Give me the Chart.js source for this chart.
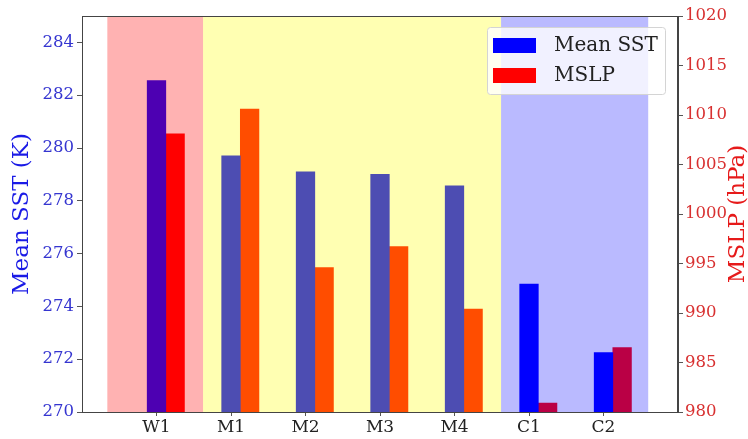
<!DOCTYPE html>
<html>
<head>
<meta charset="utf-8">
<script src="https://cdn.jsdelivr.net/npm/chart.js@4.4.0/dist/chart.umd.min.js"></script>
<style>
  html, body { margin: 0; padding: 0; background: #fff; }
  #wrap { width: 748px; height: 439px; position: relative; }
</style>
</head>
<body>
<div id="wrap"><canvas id="sstChart"></canvas></div>
<script>
// Cas étudiés et valeurs moyennes
const cases = ['W1', 'M1', 'M2', 'M3', 'M4', 'C1', 'C2'];
const meanSst = [282.55, 279.7, 279.1, 279.0, 278.57, 274.85, 272.25];
const mslp = [1008.1, 1010.6, 994.6, 996.7, 990.4, 980.9, 986.5];

const sstTicks = [270, 272, 274, 276, 278, 280, 282, 284];
const mslpTicks = [980, 985, 990, 995, 1000, 1005, 1010, 1015, 1020];

// Bandes de fond (chaud / moyen / froid), en unités de l'axe x
const bandStart = [-0.66, 0.625, 4.625];
const bandEnd = [0.625, 4.625, 6.6];
const bandColors = ['rgba(255, 0, 0, 0.3)', 'rgba(255, 255, 0, 0.3)', 'rgba(0, 0, 255, 0.27)'];

const sstTitle = 'Mean SST (K)';
const mslpTitle = 'MSLP (hPa)';

const BAR_W = 0.25;
const SERIF = '"DejaVu Serif", "Liberation Serif", serif';

// Bandes dessinées par-dessus les barres, comme un axvspan transparent
const bandsPlugin = {
    id: 'bands',
    afterDatasetsDraw(chart) {
        const { ctx, chartArea, scales } = chart;
        ctx.save();
        bandStart.forEach((from, i) => {
            const x0 = scales.x.getPixelForValue(from);
            const x1 = scales.x.getPixelForValue(bandEnd[i]);
            ctx.fillStyle = bandColors[i];
            ctx.fillRect(x0, chartArea.top, x1 - x0, chartArea.bottom - chartArea.top);
        });
        ctx.restore();
    }
};

// Cadre, titres des axes et légende
const framePlugin = {
    id: 'frame',
    afterDraw(chart) {
        const { ctx, chartArea } = chart;
        const { left, right, top, bottom } = chartArea;
        ctx.save();
        ctx.strokeStyle = '#444';
        ctx.lineWidth = 1;
        ctx.strokeRect(left + 0.5, top + 0.5, right - left - 1, bottom - top);

        const midY = (top + bottom) / 2;
        ctx.font = '23px ' + SERIF;
        ctx.textAlign = 'center';
        ctx.textBaseline = 'middle';

        ctx.save();
        ctx.translate(22, midY);
        ctx.rotate(-Math.PI / 2);
        ctx.fillStyle = '#1a1ae6';
        ctx.fillText(sstTitle, 0, 0);
        ctx.restore();

        ctx.save();
        ctx.translate(right + 60, midY);
        ctx.rotate(-Math.PI / 2);
        ctx.fillStyle = '#e61a1a';
        ctx.fillText(mslpTitle, 0, 0);
        ctx.restore();

        // légende
        const bx = right - 191, by = top + 11, bw = 178, bh = 67;
        ctx.fillStyle = 'rgba(255, 255, 255, 0.8)';
        ctx.strokeStyle = '#d4d4d4';
        ctx.beginPath();
        ctx.roundRect(bx + 0.5, by + 0.5, bw, bh, 3);
        ctx.fill();
        ctx.stroke();

        ctx.font = '20px ' + SERIF;
        ctx.textAlign = 'left';
        chart.data.datasets.forEach((ds, i) => {
            const rowY = by + 18 + i * 30;
            ctx.fillStyle = ds.backgroundColor;
            ctx.fillRect(bx + 6, rowY - 7, 43, 15);
            ctx.fillStyle = '#222';
            ctx.fillText(ds.label, bx + 67, rowY + 1);
        });
        ctx.restore();
    }
};

const ctx = document.getElementById('sstChart').getContext('2d');
new Chart(ctx, {
    type: 'bar',
    data: {
        datasets: [{
            label: 'Mean SST',
            data: cases.map((c, i) => ({ x: i, y: meanSst[i] })),
            backgroundColor: '#0000ff',
            yAxisID: 'ySst'
        }, {
            label: 'MSLP',
            data: cases.map((c, i) => ({ x: i + BAR_W, y: mslp[i] })),
            backgroundColor: '#ff0000',
            yAxisID: 'yMslp'
        }]
    },
    options: {
        responsive: true,
        maintainAspectRatio: false,
        animation: false,
        grouped: false,
        barPercentage: 1,
        categoryPercentage: 1,
        layout: { padding: { top: 16 } },
        plugins: {
            legend: { display: false },
            tooltip: { enabled: false }
        },
        scales: {
            x: {
                type: 'linear',
                min: -1,
                max: 7,
                offset: false,
                afterBuildTicks: (scale) => { scale.ticks = cases.map((c, i) => ({ value: i })); },
                afterFit: (scale) => { scale.height = 27; },
                grid: { offset: false, drawOnChartArea: false, tickLength: 4, tickColor: '#555' },
                border: { color: '#444' },
                ticks: {
                    color: '#222',
                    padding: 1,
                    maxRotation: 0,
                    font: { family: SERIF, size: 17 },
                    callback: (value) => cases[value]
                }
            },
            ySst: {
                type: 'linear',
                position: 'left',
                min: 270,
                max: 285,
                afterBuildTicks: (scale) => { scale.ticks = sstTicks.map(v => ({ value: v })); },
                afterFit: (scale) => { scale.width = 82; },
                grid: { drawOnChartArea: false, tickLength: 5, tickColor: '#555' },
                border: { color: '#444' },
                ticks: { color: '#3535d0', padding: 3, font: { family: SERIF, size: 16.5 } }
            },
            yMslp: {
                type: 'linear',
                position: 'right',
                min: 980,
                max: 1020,
                afterBuildTicks: (scale) => { scale.ticks = mslpTicks.map(v => ({ value: v })); },
                afterFit: (scale) => { scale.width = 70; },
                grid: { drawOnChartArea: false, tickLength: 5, tickColor: '#555' },
                border: { color: '#444' },
                ticks: {
                    color: '#d83030',
                    padding: 2,
                    font: { family: SERIF, size: 16.5 },
                    callback: (value) => String(value)
                }
            }
        }
    },
    plugins: [bandsPlugin, framePlugin]
});
</script>
</body>
</html>
